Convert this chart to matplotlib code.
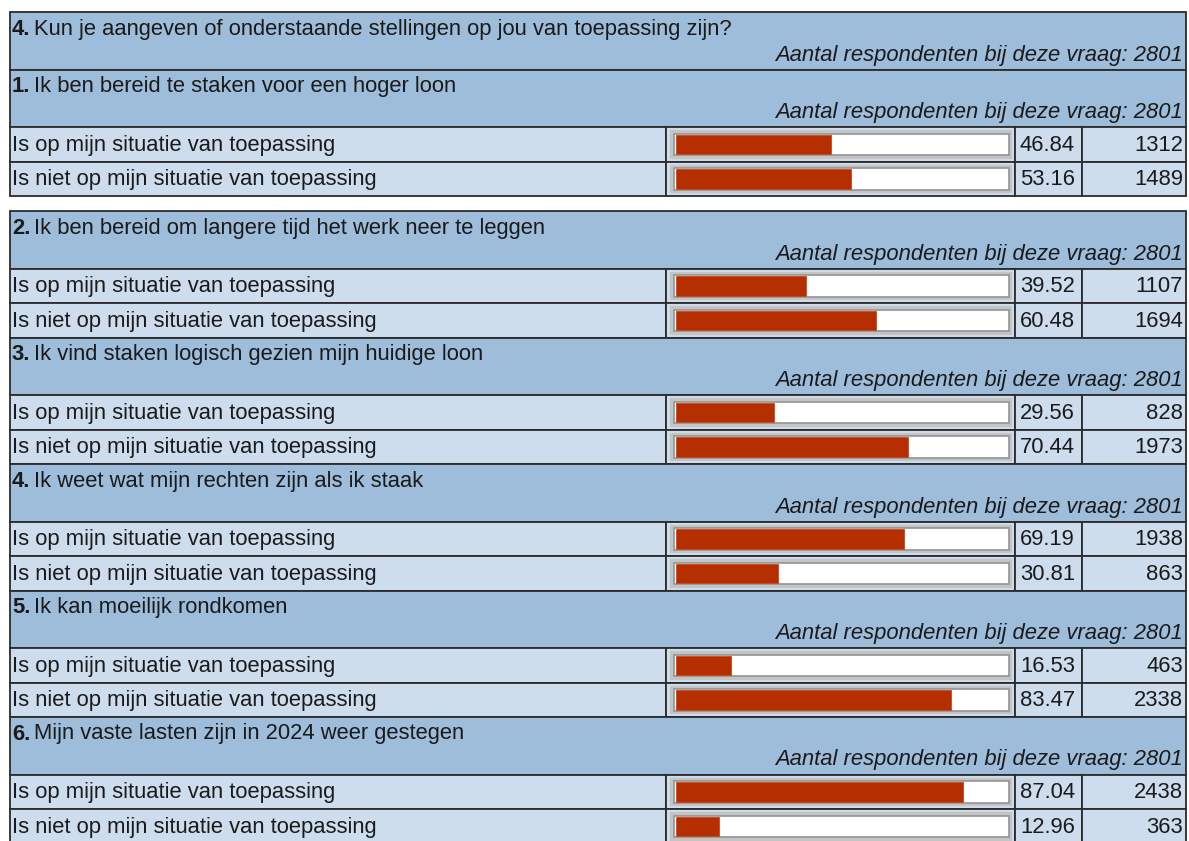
import matplotlib.pyplot as plt
from matplotlib.patches import Rectangle

plt.rcParams['font.family'] = ['Liberation Sans', 'DejaVu Sans']

main_title = "Kun je aangeven of onderstaande stellingen op jou van toepassing zijn?"
questions = [
    "Ik ben bereid te staken voor een hoger loon",
    "Ik ben bereid om langere tijd het werk neer te leggen",
    "Ik vind staken logisch gezien mijn huidige loon",
    "Ik weet wat mijn rechten zijn als ik staak",
    "Ik kan moeilijk rondkomen",
    "Mijn vaste lasten zijn in 2024 weer gestegen",
]
answers = ["Is op mijn situatie van toepassing", "Is niet op mijn situatie van toepassing"]
pcts = [[46.84, 53.16], [39.52, 60.48], [29.56, 70.44], [69.19, 30.81], [16.53, 83.47], [87.04, 12.96]]
counts = [[1312, 1489], [1107, 1694], [828, 1973], [1938, 863], [463, 2338], [2438, 363]]
respondents = 2801

HEAD = '#9dbddb'
ROW = '#cddded'
RED = '#b52e00'
EDGE = '#2b2b2b'
TXT = '#1a1a1a'
FS = 15.8

fig = plt.figure(figsize=(11.89, 8.41), dpi=100)
ax = fig.add_axes([0, 0, 1, 1])
ax.set_xlim(0, 1189)
ax.set_ylim(841, 0)
ax.axis('off')
renderer = fig.canvas.get_renderer()

X0, X1 = 10, 1186
C_BAR, C_PCT, C_CNT = 666, 1015, 1082
HH, RH = 57.5, 34.5


def cell(x0, y0, x1, y1, fc):
    ax.add_patch(Rectangle((x0, y0), x1 - x0, y1 - y0, facecolor=fc, edgecolor=EDGE, lw=1.3, zorder=1))


def header(y, num, text):
    cell(X0, y, X1, y + HH, HEAD)
    t = ax.text(X0 + 2, y + 17, num + ".", fontsize=FS, fontweight='bold', va='center', ha='left', color=TXT)
    bb = t.get_window_extent(renderer)
    xr = ax.transData.inverted().transform((bb.x1, bb.y0))[0]
    ax.text(xr + 4, y + 17, text, fontsize=FS, va='center', ha='left', color=TXT)
    ax.text(X1 - 3, y + 43, "Aantal respondenten bij deze vraag: %d" % respondents,
            fontsize=FS, style='italic', va='center', ha='right', color=TXT)
    return y + HH


def answer_row(y, label, pct, cnt):
    cell(X0, y, C_BAR, y + RH, ROW)
    cell(C_BAR, y, C_PCT, y + RH, ROW)
    cell(C_PCT, y, C_CNT, y + RH, ROW)
    cell(C_CNT, y, X1, y + RH, ROW)
    ax.text(X0 + 2, y + RH / 2 + 1, label, fontsize=FS, va='center', ha='left', color=TXT)
    # bar box with a double grey border
    bx0, bx1 = 672, 1010
    ax.add_patch(Rectangle((bx0, y + 5), bx1 - bx0, RH - 10, facecolor='white',
                           edgecolor='#c4c4c4', lw=3, zorder=2))
    ax.add_patch(Rectangle((bx0 + 1.5, y + 6.5), bx1 - bx0 - 3, RH - 13, facecolor='white',
                           edgecolor='#939393', lw=1.2, zorder=2))
    full = 330
    ax.barh(y + RH / 2, pct / 100 * full, height=RH - 15, left=676, color=RED,
            edgecolor='#c8481c', lw=0.6, zorder=3)
    ax.text(C_PCT + 5, y + RH / 2 + 1, "%.2f" % pct, fontsize=FS, va='center', ha='left', color=TXT)
    ax.text(X1 - 3, y + RH / 2 + 1, str(cnt), fontsize=FS, va='center', ha='right', color=TXT)
    return y + RH


# first table: main header + first question
y = 12
y = header(y, "4", main_title)
y = header(y, "1", questions[0])
for a, p, c in zip(answers, pcts[0], counts[0]):
    y = answer_row(y, a, p, c)

# second table: remaining questions
y = 211
for i in range(1, len(questions)):
    y = header(y, str(i + 1), questions[i])
    for a, p, c in zip(answers, pcts[i], counts[i]):
        y = answer_row(y, a, p, c)

fig.savefig('out.png', dpi=100)
